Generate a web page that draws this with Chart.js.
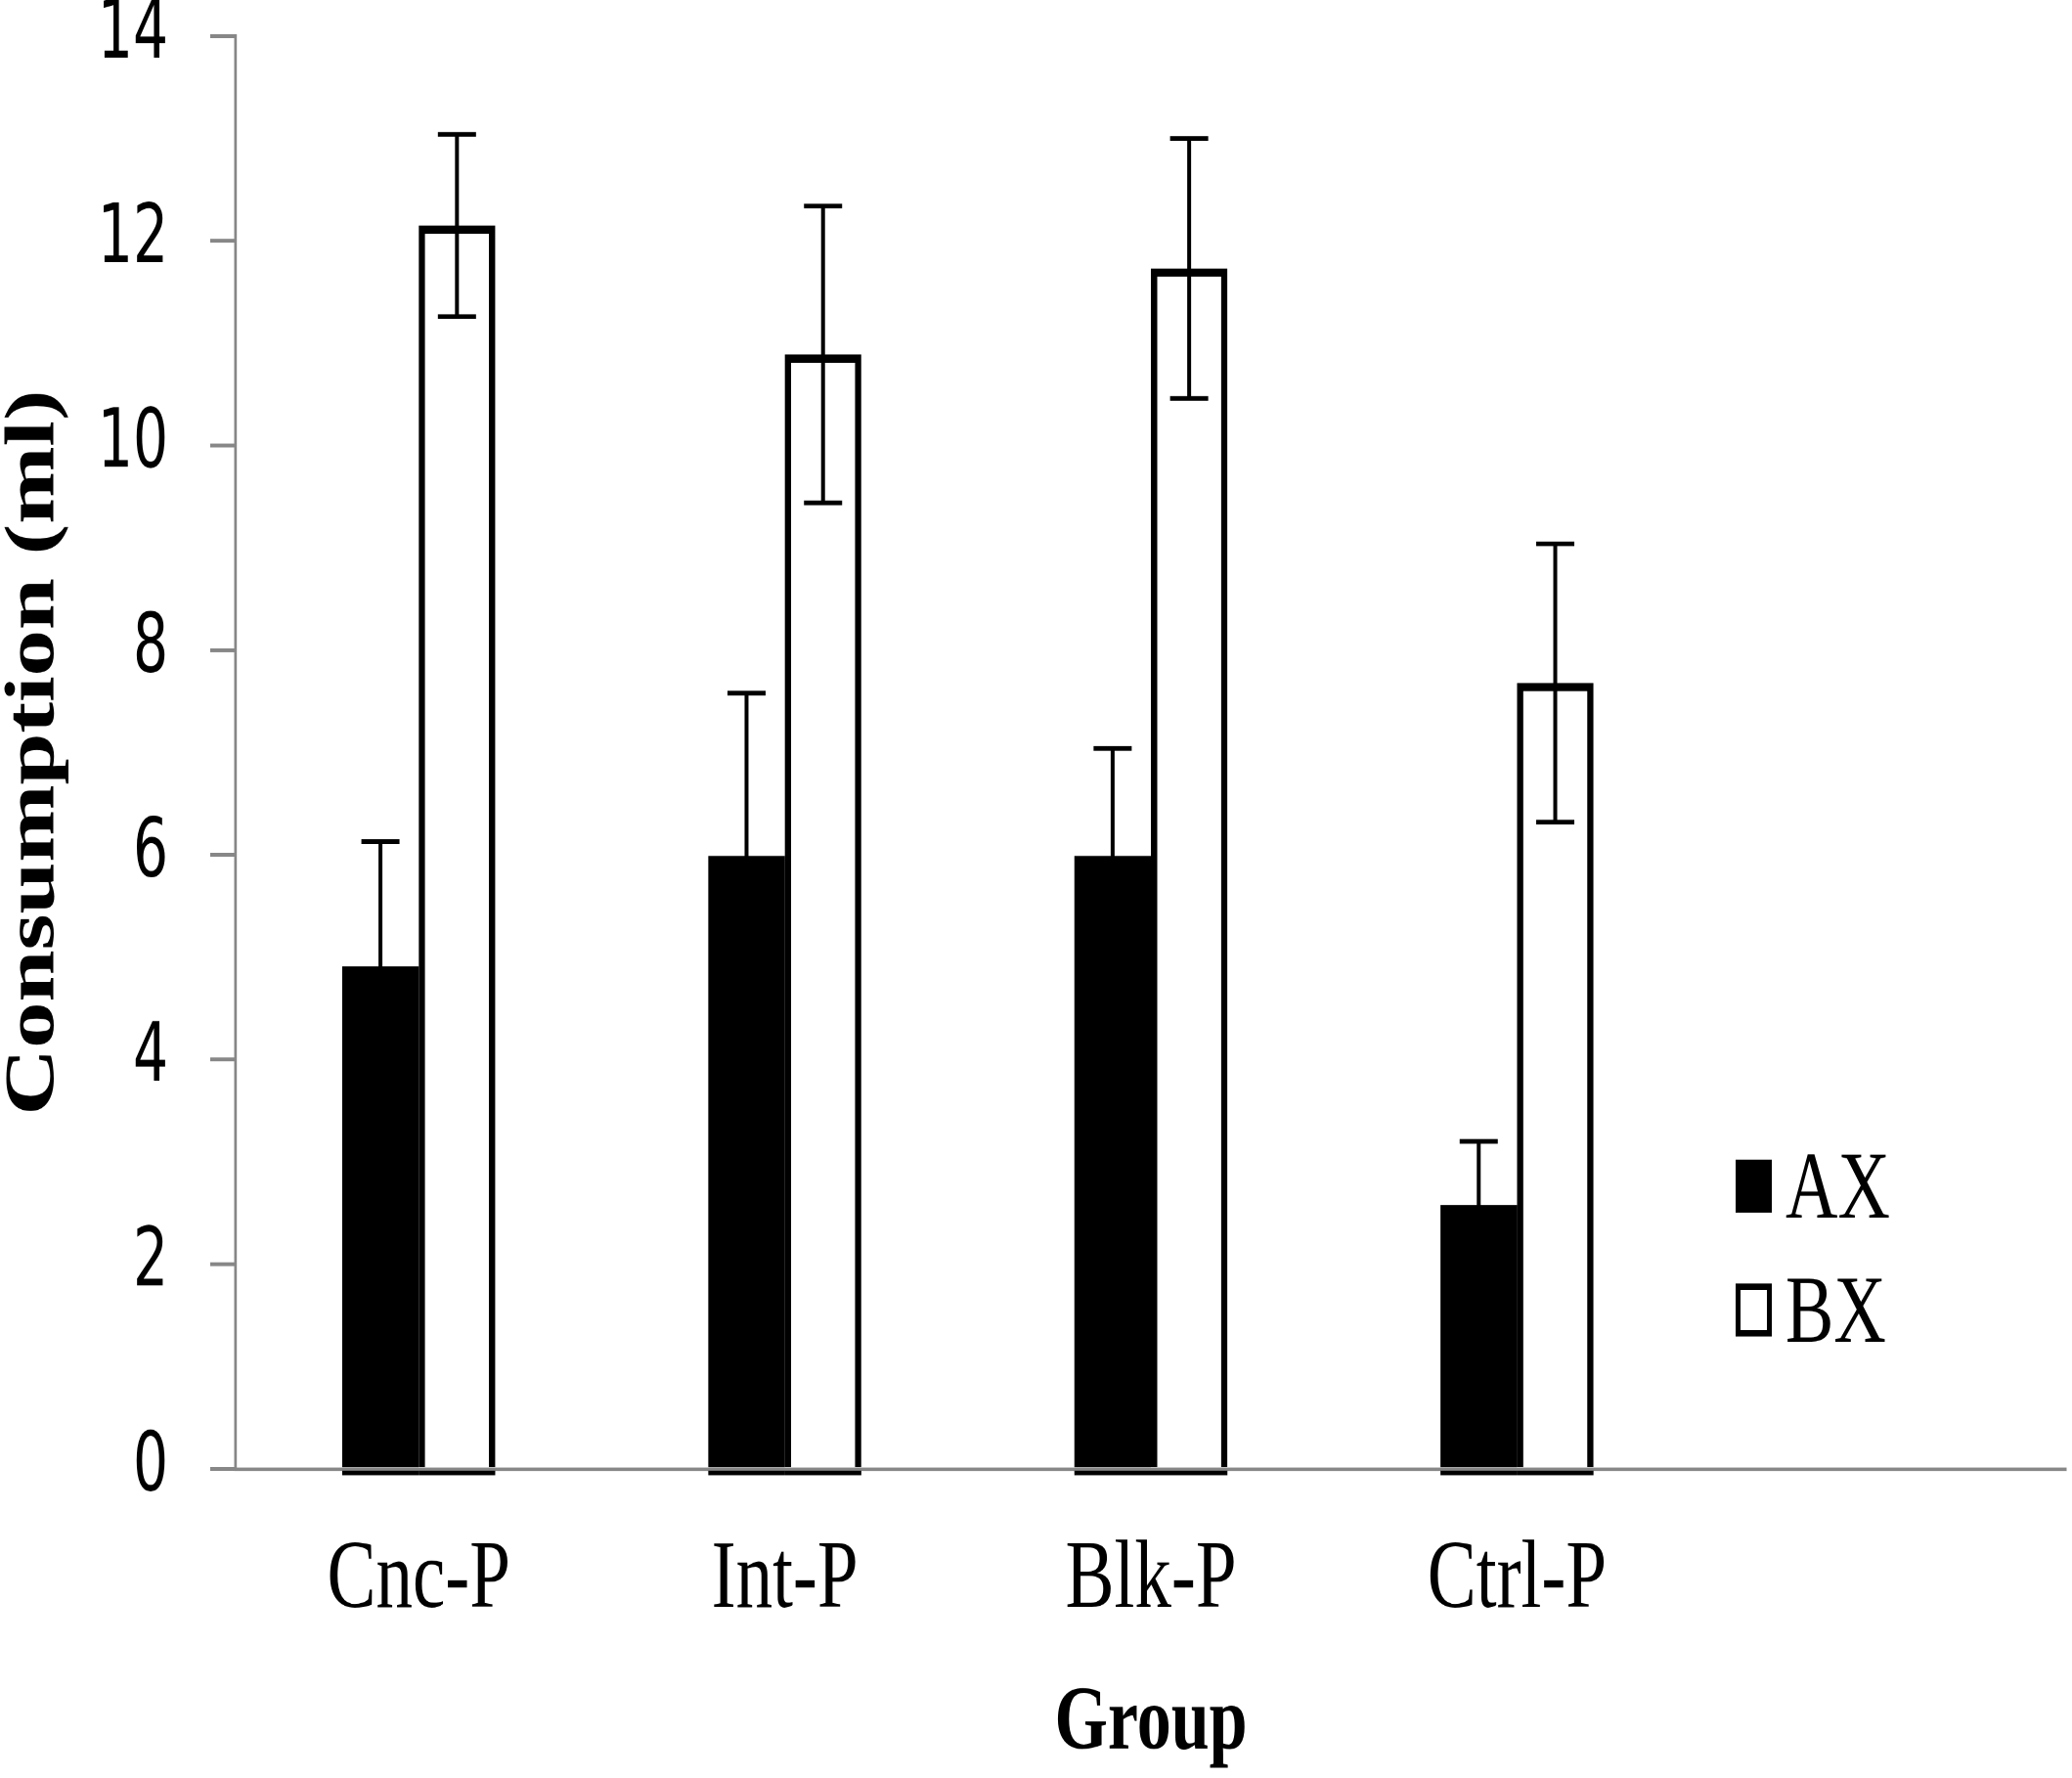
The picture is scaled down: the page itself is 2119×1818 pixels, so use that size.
<!DOCTYPE html>
<html>
<head>
<meta charset="utf-8">
<script src="https://cdn.jsdelivr.net/npm/chart.js@4.4.0/dist/chart.umd.min.js"></script>
<style>
    html { overflow: hidden; }
    html, body { margin: 0; padding: 0; background: #fff; }
    body { width: 2119px; height: 1818px; }
    /* o original parece esticado na vertical, por isso o grafico e desenhado mais baixo e esticado */
    #caixa { width: 2119px; height: 1377px; max-width: 2119px; max-height: 1377px; transform: scaleY(1.3203); transform-origin: 0 0; }
</style>
</head>
<body>
<div id="caixa"><canvas id="consumo"></canvas></div>
<script>
const grupos = ['Cnc-P', 'Int-P', 'Blk-P', 'Ctrl-P', ''];
const valoresAX = [4.91, 5.99, 5.99, 2.58];
const errosAX = [1.22, 1.59, 1.05, 0.62];
const valoresBX = [12.15, 10.89, 11.73, 7.68];
const errosBX = [0.89, 1.45, 1.27, 1.36];
const ticksY = [0, 2, 4, 6, 8, 10, 12, 14];

const serif = '"Liberation Serif", "Times New Roman", serif';
const cinza = '#878787';

// barras de erro desenhadas por cima das barras
const barrasErro = {
    id: 'barrasErro',
    afterDatasetsDraw(chart) {
        const ctx = chart.ctx;
        const y = chart.scales.y;
        const zero = y.getPixelForValue(0);
        [errosAX, errosBX].forEach((erros, i) => {
            const meta = chart.getDatasetMeta(i);
            meta.data.forEach((barra, j) => {
                if (erros[j] == null) return;
                const v = chart.data.datasets[i].data[j];
                const topo = y.getPixelForValue(v + erros[j]);
                const base = y.getPixelForValue(v - erros[j]);
                ctx.save();
                // linha preta por baixo do eixo, como no original
                ctx.fillStyle = '#000';
                ctx.fillRect(barra.x - barra.width / 2, zero + 1.3, barra.width, 3.6);
                ctx.strokeStyle = '#000';
                ctx.lineWidth = 4;
                ctx.beginPath();
                ctx.moveTo(barra.x, topo);
                ctx.lineTo(barra.x, base);
                ctx.stroke();
                ctx.lineWidth = 3.6;
                ctx.beginPath();
                ctx.moveTo(barra.x - 19.5, topo);
                ctx.lineTo(barra.x + 19.5, topo);
                ctx.moveTo(barra.x - 19.5, base);
                ctx.lineTo(barra.x + 19.5, base);
                ctx.stroke();
                ctx.restore();
            });
        });
    }
};

// legenda ao lado, dentro da area do grafico
const legendaLado = {
    id: 'legendaLado',
    afterDraw(chart) {
        const ctx = chart.ctx;
        chart.data.datasets.forEach((ds, i) => {
            const yc = 918 + i * 96;
            ctx.save();
            ctx.fillStyle = ds.backgroundColor;
            ctx.fillRect(1775, yc - 20, 37, 41);
            ctx.strokeStyle = '#000';
            ctx.lineWidth = 5;
            ctx.strokeRect(1777.5, yc - 17.5, 32, 36);
            ctx.fillStyle = '#000';
            ctx.font = '74px ' + serif;
            ctx.textBaseline = 'alphabetic';
            ctx.fillText(ds.label, 1826, yc + 25);
            ctx.restore();
        });
    }
};

const ctx = document.getElementById('consumo');
new Chart(ctx, {
    type: 'bar',
    data: {
        labels: grupos,
        datasets: [
            {
                label: 'AX',
                data: valoresAX,
                backgroundColor: '#000000',
                borderColor: '#000000',
                borderWidth: 0
            },
            {
                label: 'BX',
                data: valoresBX,
                backgroundColor: '#ffffff',
                borderColor: '#000000',
                borderWidth: 6.5
            }
        ]
    },
    options: {
        responsive: true,
        maintainAspectRatio: false,
        animation: false,
        devicePixelRatio: 2,
        categoryPercentage: 0.418,
        barPercentage: 1.0,
        layout: {
            padding: { top: 28, right: 6, left: 0, bottom: 0 }
        },
        plugins: {
            legend: { display: false },
            tooltip: { enabled: false }
        },
        scales: {
            x: {
                grid: { display: false, drawTicks: false },
                border: { display: true, color: cinza, width: 2.6 },
                ticks: {
                    color: '#000',
                    padding: 42,
                    font: { family: serif, size: 75, lineHeight: 1.2 }
                },
                title: {
                    display: true,
                    text: 'Group',
                    color: '#000',
                    padding: { top: 0, bottom: 6 },
                    font: { family: serif, size: 70, weight: 'bold', lineHeight: 1 }
                },
                afterFit(scale) { scale.height = 239.4; }
            },
            y: {
                min: ticksY[0],
                max: ticksY[ticksY.length - 1],
                ticks: {
                    stepSize: 2,
                    color: '#000',
                    padding: 43,
                    font: { family: '"DejaVu Sans Condensed", "DejaVu Sans", sans-serif', size: 63, lineHeight: 0.85 }
                },
                grid: {
                    display: true,
                    drawOnChartArea: false,
                    drawTicks: true,
                    tickLength: 26,
                    color: cinza,
                    lineWidth: 3
                },
                border: { display: true, color: cinza, width: 2.7 },
                title: {
                    display: true,
                    text: 'Consumption (ml)',
                    color: '#000',
                    padding: { top: 0, bottom: 0 },
                    font: { family: serif, size: 72, weight: 'bold', lineHeight: 1 }
                },
                afterFit(scale) {
                    scale.width = 241;
                    scale.paddingTop = 0;
                    scale.paddingBottom = 0;
                }
            }
        }
    },
    plugins: [barrasErro, legendaLado]
});
</script>
</body>
</html>
